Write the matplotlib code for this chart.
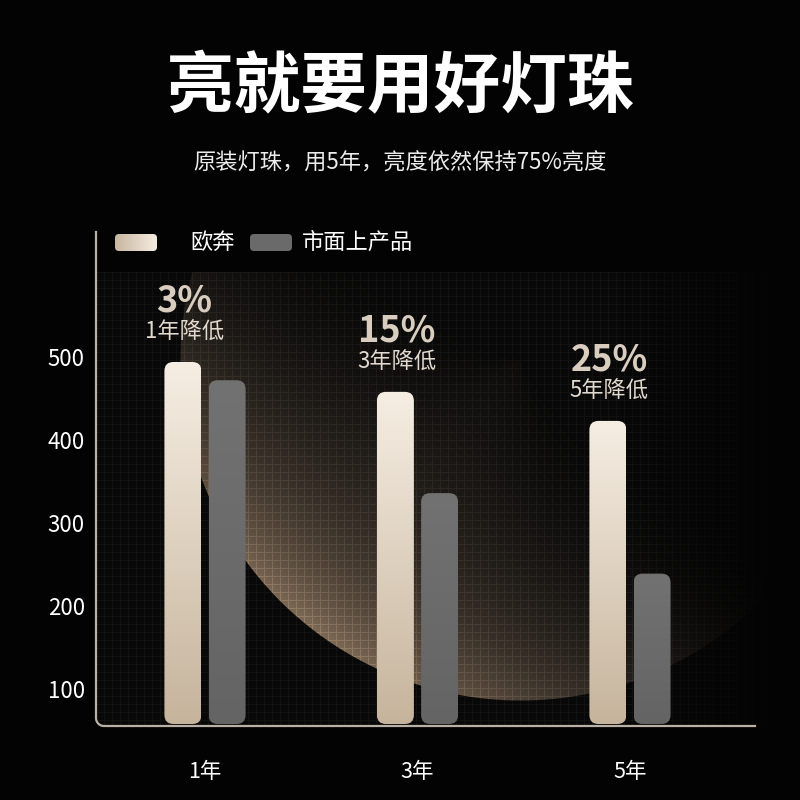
import numpy as np
import matplotlib
matplotlib.use("Agg")
import matplotlib.pyplot as plt
from matplotlib.patches import FancyBboxPatch
from matplotlib.lines import Line2D

plt.rcParams['font.family'] = ['Noto Sans CJK SC', 'DejaVu Sans']

# data
years = ['1年', '3年', '5年']
oupen = [494, 458, 423]      # 欧奔
market = [472, 336, 239]     # 市面上产品
drop_pct = ['3%', '15%', '25%']
drop_txt = ['1年降低', '3年降低', '5年降低']
yticks = [100, 200, 300, 400, 500]

W = H = 800
fig = plt.figure(figsize=(8, 8), dpi=100, facecolor='black')

# ---- background: fine grid panel + softly lit disc (figure pixels, y down)
yy, xx = np.mgrid[0:H, 0:W].astype(float)
panel = ((xx >= 97) & (xx <= 772) & (yy >= 272) & (yy <= 726)).astype(float)
fade = np.clip((780 - xx) / 160, 0, 1)
gridline = ((xx.astype(int) % 8 == 0) | (yy.astype(int) % 8 == 0)).astype(float)
bg = np.full((H, W, 3), 3.0)
bg += ((5 + 9 * gridline) * panel * fade)[..., None]

cx, cy, r = 520, 360, 340
d = np.hypot(xx - cx, yy - cy) + 1e-6
inside = np.clip(r - d + 0.5, 0, 1)
dot = ((xx - cx) / d) * -0.62 + ((yy - cy) / d) * 0.78
lit = np.clip(dot, 0, 1) ** 2.2 * np.exp(-(r - d).clip(0) / 115) * inside * panel
lit *= (1 + 0.15 * gridline)
bg += lit[..., None] * np.array([118, 98, 78])
fig.figimage(np.clip(bg, 0, 255) / 255, 0, 0, origin='upper', zorder=0)

# ---- axes placed on exact pixel box
ax = fig.add_axes([96 / W, 74 / H, 660 / W, 451 / H])
ax.set_zorder(1)
ax.patch.set_visible(False)
y_lo, y_hi = 55.4, 598.8
x_lo, x_hi = -0.513, 2.593
ax.set_xlim(x_lo, x_hi)
ax.set_ylim(y_lo, y_hi)
for s in ax.spines.values():
    s.set_visible(False)

x = np.arange(len(years))
off, bw = 0.104, 0.174
ypp = (y_hi - y_lo) / 451          # data units per pixel (y)
xpp = (x_hi - x_lo) / 660          # data units per pixel (x)
asp = ypp / xpp
base = y_lo + 2 * ypp

bars_o = ax.bar(x - off, np.array(oupen) - base, bottom=base, width=bw, visible=False)
bars_m = ax.bar(x + off, np.array(market) - base, bottom=base, width=bw, visible=False)


def round_bar(rect, top, bot):
    x0, y0 = rect.get_x(), rect.get_y()
    w, h = rect.get_width(), rect.get_height()
    patch = FancyBboxPatch((x0, y0), w, h,
                           boxstyle='round,pad=0,rounding_size=%f' % (9 * xpp),
                           mutation_aspect=asp, fc='none', ec='none')
    ax.add_patch(patch)
    t = np.linspace(0, 1, 256)[:, None, None]
    img = (np.array(top) * (1 - t) + np.array(bot) * t) / 255
    im = ax.imshow(img, extent=[x0, x0 + w, y0, y0 + h], origin='upper',
                   aspect='auto', zorder=2)
    im.set_clip_path(patch)


for rect in bars_o:
    round_bar(rect, (246, 238, 227), (198, 180, 156))
for rect in bars_m:
    round_bar(rect, (114, 114, 114), (100, 100, 100))
ax.set_xlim(x_lo, x_hi)
ax.set_ylim(y_lo, y_hi)

for xi, v, p, t in zip(x, oupen, drop_pct, drop_txt):
    ax.annotate(p, (xi - off, v), xytext=(1, 44), textcoords='offset points',
                ha='center', va='center', fontsize=26, fontweight='bold',
                color='#d9cdbf')
    ax.annotate(t, (xi - off, v), xytext=(1, 21), textcoords='offset points',
                ha='center', va='center', fontsize=16, color='#e2d9cf')

ax.set_yticks(yticks)
ax.set_xticks(x, years)
ax.tick_params(axis='y', length=0, pad=8, labelsize=16, labelcolor='white')
ax.tick_params(axis='x', length=0, pad=25, labelsize=15.5, labelcolor='white')

# ---- L-shaped axis line with rounded corner
rc = 8
ang = np.linspace(np.pi, 1.5 * np.pi, 12)
px = np.concatenate([[96, 96], 96 + rc + rc * np.cos(ang), [755]])
py = np.concatenate([[232, 726 - rc], 726 - rc - rc * np.sin(ang), [726]])
fig.add_artist(Line2D(px / W, 1 - py / H, transform=fig.transFigure,
                      color='#b9b0a6', lw=1.6, zorder=3))

# ---- legend
lax = fig.add_axes([115 / W, 1 - 251 / H, 42 / W, 17 / H])
lax.set_zorder(2)
lax.axis('off')
lp = FancyBboxPatch((0, 0), 1, 1, boxstyle='round,pad=0,rounding_size=%f' % (4 / 42),
                    mutation_aspect=42 / 17, fc='none', ec='none', transform=lax.transAxes)
lax.add_patch(lp)
t = np.linspace(0, 1, 64)[None, :, None]
lim = (np.array([200, 182, 160]) * (1 - t) + np.array([245, 236, 224]) * t) / 255
li = lax.imshow(lim, extent=[0, 1, 0, 1], aspect='auto')
li.set_clip_path(lp)
lax.set_xlim(0, 1)
lax.set_ylim(0, 1)

fig.add_artist(FancyBboxPatch((250 / W, 1 - 251 / H), 42 / W, 17 / H,
                              boxstyle='round,pad=0,rounding_size=%f' % (4 / W),
                              fc='#6a6a6a', ec='none', transform=fig.transFigure))
fig.text(190 / W, 1 - 242 / H, '欧奔', ha='left', va='center', fontsize=16, color='white')
fig.text(302 / W, 1 - 242 / H, '市面上产品', ha='left', va='center', fontsize=16, color='white')

# ---- titles
fig.text(0.5, 1 - 88 / H, '亮就要用好灯珠', ha='center', va='center',
         fontsize=48, fontweight='bold', color='white')
fig.text(0.5, 1 - 163 / H, '原装灯珠，用5年，亮度依然保持75%亮度', ha='center', va='center',
         fontsize=16, color='#ececec')

fig.savefig('out.png', dpi=100, facecolor='black')
